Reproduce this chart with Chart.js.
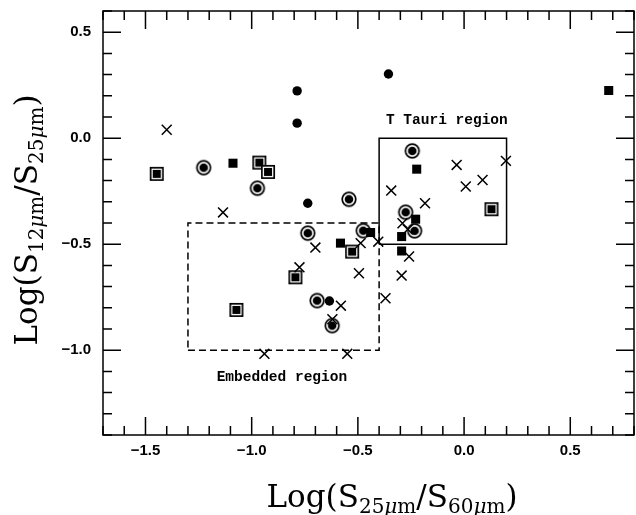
<!DOCTYPE html>
<html><head><meta charset="utf-8">
<script src="https://cdn.jsdelivr.net/npm/chart.js@4.4.1/dist/chart.umd.min.js"></script>
<style>html,body{margin:0;padding:0;background:#fff;}#wrap{width:636px;height:515px;}</style>
</head><body><div id="wrap"><canvas id="c" width="636" height="515"></canvas></div>
<script>
// ---- axis ticks ----
const xTickValues = [-1.5, -1.0, -0.5, 0.0, 0.5];
const yTickValues = [-1.0, -0.5, 0.0, 0.5];

// ---- crosses (x) ----
const crossX = [-1.40, -1.135, -0.70, -0.775, -0.58, -0.62, -0.94, -0.55, -0.487, -0.495, -0.404, -0.37, -0.343, -0.035, 0.197, 0.087, 0.008, -0.184, -0.29, -0.265, -0.259, -0.294];
const crossY = [0.04, -0.35, -0.516, -0.609, -0.79, -0.854, -1.017, -1.017, -0.495, -0.637, -0.488, -0.755, -0.247, -0.126, -0.107, -0.197, -0.228, -0.307, -0.401, -0.43, -0.558, -0.648];
// ---- filled dots ----
const dotX = [-0.786, -0.786, -0.356, -0.736, -0.634];
const dotY = [0.223, 0.071, 0.303, -0.307, -0.768];
// ---- circled dots ----
const circledX = [-1.226, -0.973, -0.542, -0.736, -0.475, -0.692, -0.621, -0.244, -0.275, -0.233];
const circledY = [-0.139, -0.236, -0.288, -0.448, -0.436, -0.766, -0.884, -0.060, -0.349, -0.437];
// ---- filled squares ----
const squareX = [-1.088, 0.681, -0.582, -0.44, -0.223, -0.228, -0.294, -0.294];
const squareY = [-0.118, 0.225, -0.495, -0.445, -0.146, -0.382, -0.464, -0.532];
// ---- boxed squares ----
const boxedX = [-1.447, -0.964, -0.923, -0.527, -0.794, -1.072, 0.129];
const boxedY = [-0.168, -0.115, -0.159, -0.535, -0.656, -0.810, -0.335];
// ---- regions ----
const tTauriX = [-0.4, 0.2];
const tTauriY = [-0.5, 0.0];
const embeddedX = [-1.3, -0.4];
const embeddedY = [-1.0, -0.4];
const regionLabels = ["T Tauri region", "Embedded region"];
const regionLabelX = [-0.368, -1.165];
const regionLabelY = [0.083, -1.13];

function pts(xs, ys){ return xs.map((x,i)=>({x:x, y:ys[i]})); }
function boxPts(xr, yr){ return [{x:xr[0],y:yr[0]},{x:xr[1],y:yr[0]},{x:xr[1],y:yr[1]},{x:xr[0],y:yr[1]},{x:xr[0],y:yr[0]}]; }

function makeCircled(){
  const c=document.createElement('canvas'); c.width=c.height=18; const g=c.getContext('2d');
  g.beginPath(); g.arc(9,9,6.8,0,2*Math.PI); g.fillStyle='#fff'; g.fill();
  g.lineWidth=1.7; g.strokeStyle='#000'; g.stroke();
  g.beginPath(); g.arc(9,9,4.3,0,2*Math.PI); g.fillStyle='#000'; g.fill();
  return c;
}
function makeBoxed(){
  const c=document.createElement('canvas'); c.width=c.height=16; const g=c.getContext('2d');
  g.fillStyle='#fff'; g.fillRect(1,1,14,14);
  g.lineWidth=1.7; g.strokeStyle='#000'; g.strokeRect(1.85,1.85,12.3,12.3);
  g.fillStyle='#000'; g.fillRect(4,4,8,8);
  return c;
}
function fmt(v){ let s=Math.abs(v)<1e-9 ? '0.0' : Number(v).toFixed(1); return s.replace('-', '\u2212'); }

function drawMath(ctx, parts, cx, cy, rot){
  const big = 31, small = 20, fam = '"DejaVu Serif"';
  const font = p => (p.it ? 'italic ' : '') + (p.sub ? small : big) + 'px ' + fam;
  let w = 0;
  parts.forEach(p=>{ ctx.font = font(p); p.w = ctx.measureText(p.t).width; w += p.w; });
  ctx.save(); ctx.translate(cx, cy); ctx.rotate(rot);
  ctx.fillStyle='#000'; ctx.textBaseline='alphabetic'; ctx.textAlign='left';
  let x = -w/2; const base = 10;
  parts.forEach(p=>{ ctx.font = font(p); ctx.fillText(p.t, x, base + (p.sub ? 6 : 0)); x += p.w; });
  ctx.restore();
}

const framePlugin = {
  id:'frame',
  afterDatasetsDraw(chart){
    const ctx = chart.ctx, a = chart.chartArea, xs = chart.scales.x, ys = chart.scales.y;
    ctx.save(); ctx.strokeStyle='#000'; ctx.lineWidth=1.5;
    ctx.strokeRect(a.left, a.top, a.right-a.left, a.bottom-a.top);
    ctx.beginPath();
    for (let i=-17;i<=8;i++){
      const v=i/10, px=xs.getPixelForValue(v), L=(i%5===0)?18:9;
      ctx.moveTo(px,a.bottom); ctx.lineTo(px,a.bottom-L);
      ctx.moveTo(px,a.top); ctx.lineTo(px,a.top+L);
    }
    for (let i=-14;i<=6;i++){
      const v=i/10, py=ys.getPixelForValue(v), L=(i%5===0)?18:9;
      ctx.moveTo(a.left,py); ctx.lineTo(a.left+L,py);
      ctx.moveTo(a.right,py); ctx.lineTo(a.right-L,py);
    }
    ctx.stroke(); ctx.restore();
  },
  afterDraw(chart){
    const ctx = chart.ctx, xs = chart.scales.x, ys = chart.scales.y;
    ctx.save();
    ctx.fillStyle='#000'; ctx.font='bold 14.5px "Liberation Mono"'; ctx.textBaseline='middle'; ctx.textAlign='left';
    regionLabels.forEach((t,i)=>ctx.fillText(t, xs.getPixelForValue(regionLabelX[i]), ys.getPixelForValue(regionLabelY[i])));
    ctx.restore();
    drawMath(ctx, [{t:'Log(S'},{t:'25',sub:1},{t:'\u03bc',sub:1,it:1},{t:'m',sub:1},{t:'/S'},{t:'60',sub:1},{t:'\u03bc',sub:1,it:1},{t:'m',sub:1},{t:')'}], 392, 497, 0);
    drawMath(ctx, [{t:'Log(S'},{t:'12',sub:1},{t:'\u03bc',sub:1,it:1},{t:'m',sub:1},{t:'/S'},{t:'25',sub:1},{t:'\u03bc',sub:1,it:1},{t:'m',sub:1},{t:')'}], 27, 220, -Math.PI/2);
  }
};

const tickFont = {family:'"Liberation Sans"', size:15, weight:'bold'};
new Chart(document.getElementById('c'), {
  type:'scatter',
  data:{ datasets:[
    {data:boxPts(tTauriX,tTauriY), showLine:true, borderColor:'#000', borderWidth:1.5, pointRadius:0, fill:false, order:10},
    {data:boxPts(embeddedX,embeddedY), showLine:true, borderColor:'#000', borderWidth:1.5, borderDash:[7,4], pointRadius:0, fill:false, order:9},
    {data:pts(boxedX,boxedY), pointStyle:makeBoxed(), pointRadius:8, order:5},
    {data:pts(circledX,circledY), pointStyle:makeCircled(), pointRadius:9, order:4},
    {data:pts(squareX,squareY), pointStyle:'rect', pointRadius:6.4, backgroundColor:'#000', borderColor:'#000', borderWidth:0, order:3},
    {data:pts(dotX,dotY), pointStyle:'circle', pointRadius:4.7, backgroundColor:'#000', borderColor:'#000', borderWidth:0, order:2},
    {data:pts(crossX,crossY), pointStyle:'crossRot', pointRadius:7, borderColor:'#000', borderWidth:1.5, order:1}
  ]},
  options:{
    responsive:false, animation:false, devicePixelRatio:1,
    layout:{autoPadding:false, padding:{left:0, top:11, right:2, bottom:0}},
    plugins:{legend:{display:false}, tooltip:{enabled:false}},
    scales:{
      x:{type:'linear', min:-1.7, max:0.8, grid:{display:false, drawTicks:false}, border:{display:false},
         afterBuildTicks:s=>{ s.ticks = xTickValues.map(v=>({value:v})); },
         afterFit:s=>{ s.height = 80; s.paddingLeft = 0; s.paddingRight = 0; },
         ticks:{padding:7, color:'#000', font:tickFont, maxRotation:0, autoSkip:false, callback:v=>fmt(v)}},
      y:{type:'linear', min:-1.4, max:0.6, grid:{display:false, drawTicks:false}, border:{display:false},
         afterBuildTicks:s=>{ s.ticks = yTickValues.map(v=>({value:v})); },
         afterFit:s=>{ s.width = 103; s.paddingTop = 0; s.paddingBottom = 0; },
         ticks:{padding:12, color:'#000', font:tickFont, autoSkip:false, callback:v=>fmt(v)}}
    }
  },
  plugins:[framePlugin]
});
</script></body></html>
